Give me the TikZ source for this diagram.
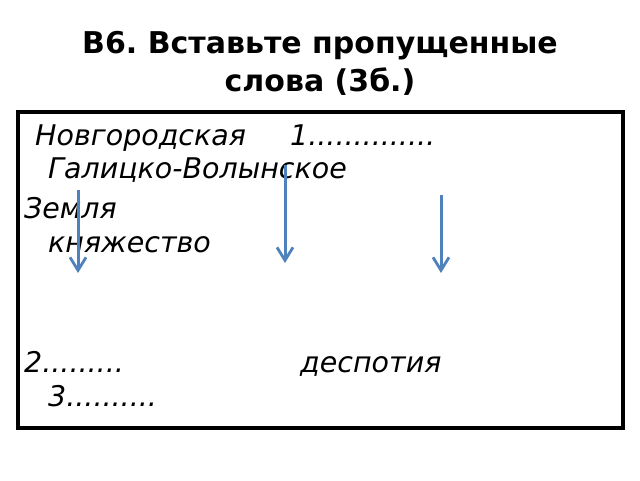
\documentclass[tikz,border=0pt]{standalone}
\usepackage{fontspec}
\setmainfont{DejaVu Sans}
\frenchspacing
\usetikzlibrary{arrows.meta}
\definecolor{arrowblue}{HTML}{4F81BD}
\tikzset{
  title/.style={font=\fontsize{30}{36}\selectfont\bfseries, anchor=base, inner sep=0pt},
  word/.style={font=\fontsize{28.5}{34}\selectfont\itshape, anchor=base west, inner sep=0pt},
  down/.style={arrowblue, line width=3pt, -{Straight Barb[length=13pt, width=16pt, line width=2.8pt]}}
}
\begin{document}
\begin{tikzpicture}[x=1pt,y=-1pt]
\useasboundingbox (0,0) rectangle (640,480);

\node (T1) at (320,53) [title] {В6. Вставьте пропущенные};
\node (T2) at (320,91) [title] {слова (3б.)};
\draw[line width=3.2pt] (18,112) rectangle (623,428);

\node (A) at (35,145) [word] {Новгородская};
\node (B) at (290,145) [word] {1..............};
\node (C) at (48,178) [word] {Галицко-Волынское};
\node (D) at (24,218) [word] {Земля};
\node (E) at (48,252) [word] {княжество};
\node (F) at (24,372) [word] {2.........};
\node (G) at (300,372) [word] {деспотия};
\node (H) at (48,406) [word] {3..........};

\coordinate (a1) at (78,190);  \coordinate (a2) at (78,273);
\coordinate (b1) at (285,165); \coordinate (b2) at (285,263);
\coordinate (c1) at (441,195); \coordinate (c2) at (441,273);

\draw[down] (a1) -- (a2);
\draw[down] (b1) -- (b2);
\draw[down] (c1) -- (c2);

\end{tikzpicture}
\end{document}
